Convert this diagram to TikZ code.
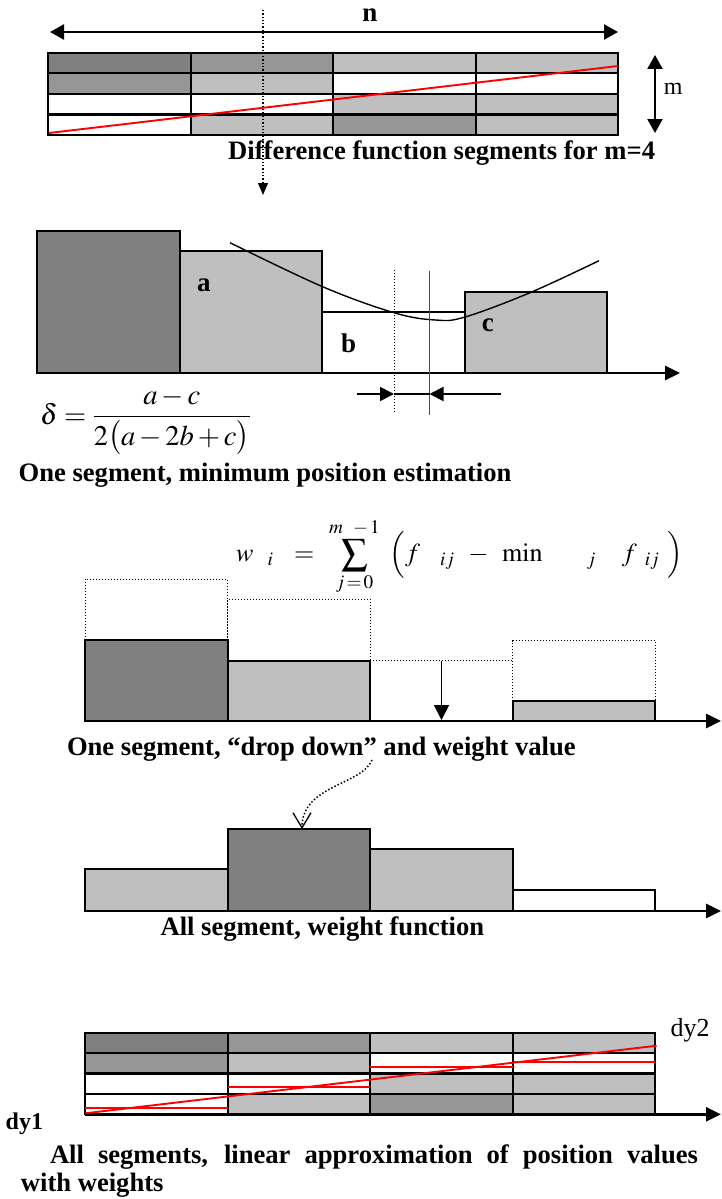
\documentclass[tikz,border=0pt]{standalone}
\usepackage{mathptmx}
\usepackage{fontspec}
\setmainfont{Liberation Serif}
\usetikzlibrary{arrows.meta,positioning,calc}

\definecolor{segdark}{gray}{0.5}
\definecolor{segmid}{gray}{0.59}
\definecolor{seglight}{gray}{0.75}

% 4x4 grid of difference segments: x0, y0, cell width, cell height
\newcommand{\segmentgrid}[4]{%
  \foreach \row/\rowfills in {0/{segdark,segmid,seglight,seglight},1/{segmid,seglight,white,white},2/{white,white,seglight,seglight},3/{white,seglight,segmid,seglight}}
    \foreach \cellfill [count=\col from 0] in \rowfills
      \filldraw[cell, fill=\cellfill] ({#1+#3*\col},{#2+#4*\row}) rectangle ++(#3,#4);
}

\begin{document}
\begin{tikzpicture}[x=1pt, y=-1pt,
    every node/.style={inner sep=0pt},
    caption/.style={font=\bfseries\fontsize{26.6}{30}\selectfont, anchor=base west},
    letter/.style={font=\bfseries\fontsize{27}{30}\selectfont, anchor=base west},
    note/.style={font=\fontsize{24}{28}\selectfont, anchor=base west},
    cell/.style={draw, line width=2.1pt},
    bar/.style={draw, line width=2pt},
    ghost/.style={dotted, line width=1pt},
    axis/.style={line width=2.7pt, -{Triangle[length=15pt, width=14pt]}},
    redline/.style={red, line width=1.9pt},
    bigarrow/.style={line width=2.4pt, {Triangle[length=14pt, width=15pt]}-{Triangle[length=14pt, width=15pt]}},
    pointer/.style={line width=1.9pt, -{Triangle[length=14pt, width=14pt]}}
]
\useasboundingbox (0,0) rectangle (721,1199);

% difference function segments
\coordinate (nL) at (50,32);
\coordinate (nR) at (618,32);
\draw[bigarrow] (nL) -- (nR);
\node[letter, anchor=base] (nlabel) at (370,22) {n};
\segmentgrid{48}{52.7}{142.6}{20.6}
\coordinate (fit1a) at (49,133);
\coordinate (fit1b) at (618,66);
\draw[redline] (fit1a) -- (fit1b);
\coordinate (mT) at (655,55);
\coordinate (mB) at (655,133);
\draw[bigarrow] (mT) -- (mB);
\node[note] (mlabel) at (663.6,95) {m};
\node[caption] (cap1) at (228,159.3) {Difference function segments for m=4};
\coordinate (drop1a) at (263,10);
\coordinate (drop1b) at (263,195);
\draw[dotted, line width=1.3pt, -{Triangle[length=12pt, width=10pt]}] (drop1a) -- (drop1b);

% minimum position estimation
\foreach \shade/\height [count=\k from 0] in {segdark/230.7,seglight/251,white/311.7,seglight/291.7}
  \filldraw[bar, fill=\shade] ({37+142.5*\k},373) rectangle ({37+142.5*(\k+1)},\height);
\coordinate (ax2a) at (37,373);
\coordinate (ax2b) at (680,373);
\draw[axis] (ax2a) -- (ax2b);
\draw[line width=1.4pt] plot[smooth, tension=0.6] coordinates {(230,242.7) (322.6,286.7) (394,312.7) (435.5,320) (465,317) (530,292.7) (599,260.7)};
\node[letter] (la) at (197,291) {a};
\node[letter] (lb) at (341,352.3) {b};
\node[letter] (lc) at (481.6,331.7) {c};
\coordinate (guessT) at (394,270);
\coordinate (guessB) at (394,412.7);
\coordinate (trueT) at (429.5,270.7);
\coordinate (trueB) at (429.5,415);
\draw[ghost] (guessT) -- (guessB);
\draw[red, line width=1.8pt] (trueT) -- (trueB);
\coordinate (dL) at (357,394);
\coordinate (dM) at (394,394);
\coordinate (dN) at (429.5,394);
\coordinate (dR) at (501,394);
\draw[pointer] (dL) -- (dM);
\draw[line width=1.9pt] (dM) -- (dN);
\draw[pointer] (dR) -- (dN);
\node[anchor=base west] (delta) at (40,424) {\fontsize{28.5}{32}\selectfont $\displaystyle \delta=\frac{a-c}{2\bigl(a-2b+c\bigr)}$};
\node[caption] (cap2) at (18.4,481.7) {One segment, minimum position estimation};

% drop down and weight value
\node[anchor=base west] (wsum) at (236,561.7) {\fontsize{26}{30}\selectfont $w\hspace{14pt}{}_{i}\hspace{15pt}=\hspace{9pt}\displaystyle\sum\limits_{j\,=\,0}^{m\hspace{10pt}-\,1}\hspace{10pt}\Bigl(\hspace{0pt}f\hspace{20pt}{}_{ij}\hspace{10pt}-\hspace{10pt}\mathrm{min}\hspace{44pt}{}_{j}\hspace{26pt}f\hspace{8pt}{}_{ij}\hspace{8pt}\Bigr)$};
\foreach \shade/\height/\slot in {segdark/640/0,seglight/660.7/1,seglight/701/3}
  \filldraw[bar, fill=\shade] ({85.3+142.5*\slot},721) rectangle ({85.3+142.5*(\slot+1)},\height);
\foreach \height/\ghosttop/\slot in {640/579/0,660.7/599/1,701/640.7/3}
  \draw[ghost] ({85.3+142.5*\slot},\height) |- ({85.3+142.5*(\slot+1)},\ghosttop) -- ({85.3+142.5*(\slot+1)},\height);
\coordinate (gapL) at (370,660.7);
\coordinate (gapR) at (512.8,660.7);
\draw[ghost] (gapL) -- (gapR);
\coordinate (ax3a) at (85.3,721);
\coordinate (ax3b) at (721,721);
\draw[axis] (ax3a) -- (ax3b);
\coordinate (fallT) at (441.5,660.7);
\coordinate (fallB) at (441.5,720);
\draw[line width=1.9pt, -{Triangle[length=15pt, width=15pt]}] (fallT) -- (fallB);
\node[caption] (cap3) at (66.8,755) {One segment, “drop down” and weight value};

% weight function
\coordinate (hintA) at (372,760);
\coordinate (hintB) at (302,829);
\draw[dotted, line width=1.5pt, -{Straight Barb[length=15pt, width=18pt, line width=1.3pt]}] (hintA) .. controls (362,785) and (302,785) .. (hintB);
\foreach \shade/\height [count=\k from 0] in {seglight/869.3,segdark/829.3,seglight/849.3,white/890}
  \filldraw[bar, fill=\shade] ({85.3+142.5*\k},911) rectangle ({85.3+142.5*(\k+1)},\height);
\coordinate (ax4a) at (85.3,911);
\coordinate (ax4b) at (721,911);
\draw[axis] (ax4a) -- (ax4b);
\node[caption] (cap4) at (160.4,935.7) {All segment, weight function};

% linear approximation with weights
\segmentgrid{85.3}{1032.7}{142.5}{20.4}
\coordinate (ax5a) at (85.3,1114.3);
\coordinate (ax5b) at (721,1114.3);
\draw[axis] (ax5a) -- (ax5b);
\foreach \level [count=\k from 0] in {1107.7,1087.3,1066.7,1061.7}
  \draw[redline] ({85.3+142.5*\k},\level) -- ({85.3+142.5*(\k+1)},\level);
\coordinate (fit5a) at (85.3,1113.3);
\coordinate (fit5b) at (656.7,1045.7);
\draw[redline] (fit5a) -- (fit5b);
\node[note, font=\fontsize{26}{30}\selectfont] (dy2) at (670.5,1036.7) {dy2};
\node[letter, font=\bfseries\fontsize{24}{28}\selectfont] (dy1) at (5.5,1129.3) {dy1};
\node[caption] (cap5a) at (49.8,1163.3) {\makebox[648pt][s]{All segments, linear approximation of position values}};
\node[caption] (cap5b) at (20.7,1191.7) {with weights};
\end{tikzpicture}
\end{document}
